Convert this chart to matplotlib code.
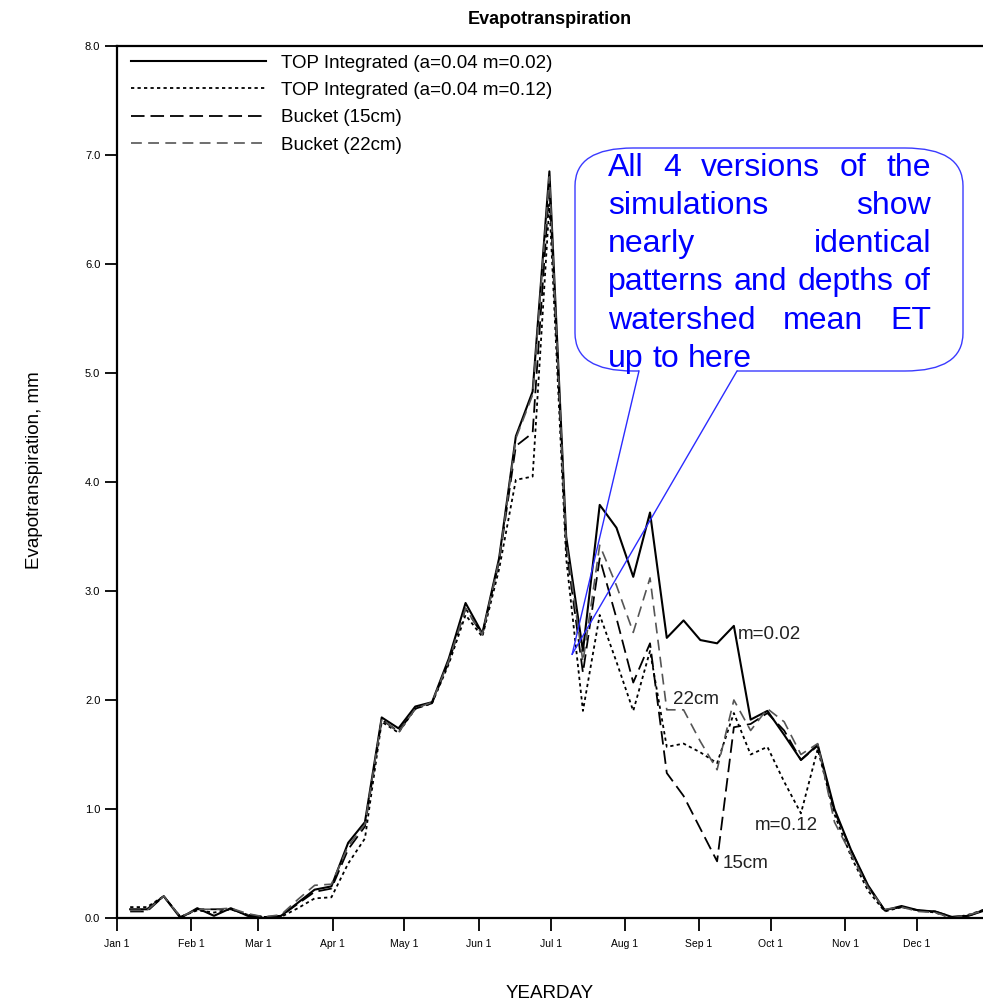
import matplotlib
matplotlib.use('Agg')
import matplotlib.pyplot as plt
from matplotlib.path import Path
from matplotlib.patches import PathPatch
from matplotlib.lines import Line2D

W, H = 983, 1000

# ---------------- data ----------------
weeks = list(range(1, 53))
days = [7 * w - 1.5 for w in weeks]

top_m002 = [0.08, 0.08, 0.20, 0.00, 0.09, 0.02, 0.09, 0.02, 0.00, 0.02,
            0.14, 0.26, 0.29, 0.69, 0.88, 1.84, 1.74, 1.94, 1.98, 2.38,
            2.89, 2.61, 3.30, 4.42, 4.83, 6.85, 3.50, 2.45, 3.79, 3.58,
            3.13, 3.72, 2.57, 2.73, 2.55, 2.52, 2.68, 1.82, 1.90, 1.68,
            1.45, 1.59, 1.00, 0.62, 0.30, 0.07, 0.11, 0.07, 0.06, 0.01,
            0.02, 0.08]
top_m012 = [0.10, 0.10, 0.20, 0.01, 0.07, 0.05, 0.08, 0.03, 0.01, 0.01,
            0.09, 0.18, 0.19, 0.50, 0.73, 1.80, 1.70, 1.92, 1.97, 2.33,
            2.78, 2.58, 3.20, 4.02, 4.05, 6.55, 3.30, 1.90, 2.78, 2.35,
            1.90, 2.45, 1.57, 1.60, 1.52, 1.42, 1.88, 1.50, 1.57, 1.25,
            0.96, 1.55, 0.95, 0.56, 0.25, 0.06, 0.10, 0.07, 0.05, 0.00,
            0.03, 0.08]
bucket_15 = [0.06, 0.06, 0.20, 0.01, 0.08, 0.08, 0.08, 0.03, 0.01, 0.02,
             0.13, 0.24, 0.27, 0.63, 0.84, 1.82, 1.71, 1.92, 1.97, 2.35,
             2.84, 2.60, 3.27, 4.33, 4.45, 6.72, 3.40, 2.25, 3.30, 2.75,
             2.16, 2.52, 1.33, 1.12, 0.82, 0.52, 1.75, 1.78, 1.88, 1.72,
             1.45, 1.58, 0.98, 0.62, 0.29, 0.07, 0.10, 0.07, 0.06, 0.01,
             0.02, 0.07]
bucket_22 = [0.07, 0.07, 0.20, 0.01, 0.08, 0.08, 0.09, 0.04, 0.01, 0.03,
             0.17, 0.30, 0.31, 0.66, 0.86, 1.83, 1.70, 1.92, 1.98, 2.36,
             2.84, 2.60, 3.28, 4.40, 4.80, 6.80, 3.45, 2.35, 3.42, 3.05,
             2.62, 3.12, 1.91, 1.91, 1.62, 1.36, 2.00, 1.72, 1.92, 1.80,
             1.50, 1.60, 0.88, 0.58, 0.28, 0.08, 0.10, 0.06, 0.05, 0.00,
             0.03, 0.07]

series_labels = ['TOP Integrated (a=0.04 m=0.02)',
                 'TOP Integrated (a=0.04 m=0.12)',
                 'Bucket (15cm)',
                 'Bucket (22cm)']

month_days = [0, 31, 59, 90, 120, 151, 181, 212, 243, 273, 304, 334]
month_labels = ['Jan 1', 'Feb 1', 'Mar 1', 'Apr 1', 'May 1', 'Jun 1',
                'Jul 1', 'Aug 1', 'Sep 1', 'Oct 1', 'Nov 1', 'Dec 1']
y_ticks = [0, 1, 2, 3, 4, 5, 6, 7, 8]

curve_notes = [('m=0.02', 259, 2.60), ('22cm', 232, 2.00),
               ('m=0.12', 266.3, 0.85), ('15cm', 253, 0.50)]

callout_lines = ['All 4 versions of the', 'simulations show',
                 'nearly identical', 'patterns and depths of',
                 'watershed mean ET', 'up to here']
callout_tip = (190, 2.42)

# ---------------- figure ----------------
plt.rcParams['font.family'] = ['Liberation Sans', 'DejaVu Sans']
fig = plt.figure(figsize=(W / 100, H / 100), dpi=100)
ax = fig.add_axes([117 / W, 1 - 918 / H, (983 - 117) / W, (918 - 46) / H])

ax.plot(days, top_m002, color='black', lw=1.5, ls='-', label=series_labels[0])
ax.plot(days, top_m012, color='black', lw=1.3, ls=(0, (1.8, 1.8)), label=series_labels[1])
ax.plot(days, bucket_15, color='black', lw=1.3, ls=(0, (7.5, 3.3)), label=series_labels[2])
ax.plot(days, bucket_22, color='#555555', lw=1.2, ls=(0, (6.5, 3.8)), label=series_labels[3])

ax.set_xlim(0, 361.5)
ax.set_ylim(0, 8)
ax.set_xticks(month_days)
ax.set_xticklabels(month_labels)
ax.set_yticks(y_ticks)
ax.set_yticklabels(['%.1f' % v for v in y_ticks])
ax.tick_params(axis='both', direction='out', length=9, width=1.3, labelsize=7.5,
               colors='black')
ax.tick_params(axis='y', labelsize=8, pad=3)
ax.tick_params(axis='x', pad=6)
for side in ['left', 'bottom', 'top']:
    ax.spines[side].set_linewidth(1.6)
ax.spines['right'].set_visible(False)

ax.set_title('Evapotranspiration', fontsize=13, fontweight='bold', pad=16)
ax.set_xlabel('YEARDAY', fontsize=13.5)
ax.xaxis.set_label_coords(0.5, (918 - 985) / 872)
ax.set_ylabel('Evapotranspiration, mm', fontsize=13.5)
ax.yaxis.set_label_coords((43 - 117) / 866, (918 - 470) / 872)

leg = ax.legend(loc='upper left', bbox_to_anchor=(0.007, 1.0), frameon=False,
                fontsize=13.5, handlelength=7.2, handletextpad=0.8,
                labelspacing=0.55, borderaxespad=0.1, borderpad=0.35)

for txt, dx, dy in curve_notes:
    ax.text(dx, dy, txt, fontsize=13.5, color='#222222', va='center', ha='left')

# ---------------- callout ----------------
def fp(x, y):
    return (x / W, 1 - y / H)

L, R, T, B = 575, 963, 148, 371
rx, ry = 58, 38
g1, g2 = 639, 737
verts = [fp(g1, B), fp(L + rx, B), fp(L, B), fp(L, B - ry), fp(L, T + ry),
         fp(L, T), fp(L + rx, T), fp(R - rx, T), fp(R, T), fp(R, T + ry),
         fp(R, B - ry), fp(R, B), fp(R - rx, B), fp(g2, B)]
codes = [Path.MOVETO, Path.LINETO, Path.CURVE3, Path.CURVE3, Path.LINETO,
         Path.CURVE3, Path.CURVE3, Path.LINETO, Path.CURVE3, Path.CURVE3,
         Path.LINETO, Path.CURVE3, Path.CURVE3, Path.LINETO]
fig.patches.append(PathPatch(Path(verts, codes), transform=fig.transFigure,
                             facecolor='none', edgecolor='#3a3aff', lw=1.0))
tip = fig.transFigure.inverted().transform(ax.transData.transform(callout_tip))
for gx in (g1, g2):
    fig.lines.append(Line2D([gx / W, tip[0]], [1 - B / H, tip[1]],
                            transform=fig.transFigure, color='#2b2bff', lw=1.0))

text_left, text_right = 608, 931
baselines = [176, 214, 252, 290, 329, 367]
fig.canvas.draw()
renderer = fig.canvas.get_renderer()
for i, line in enumerate(callout_lines):
    words = line.split()
    objs = [fig.text(0, 0, w, fontsize=23, color='#0000ff', va='baseline',
                     ha='left', transform=fig.transFigure) for w in words]
    widths = [o.get_window_extent(renderer).width for o in objs]
    last = (i == len(callout_lines) - 1)
    if last or len(words) == 1:
        gap = 23 * 1.389 * 0.278
    else:
        gap = (text_right - text_left - sum(widths)) / (len(words) - 1)
    x = text_left
    for o, wd in zip(objs, widths):
        o.set_position(fp(x, baselines[i]))
        x += wd + gap

fig.savefig('out.png', dpi=100)
